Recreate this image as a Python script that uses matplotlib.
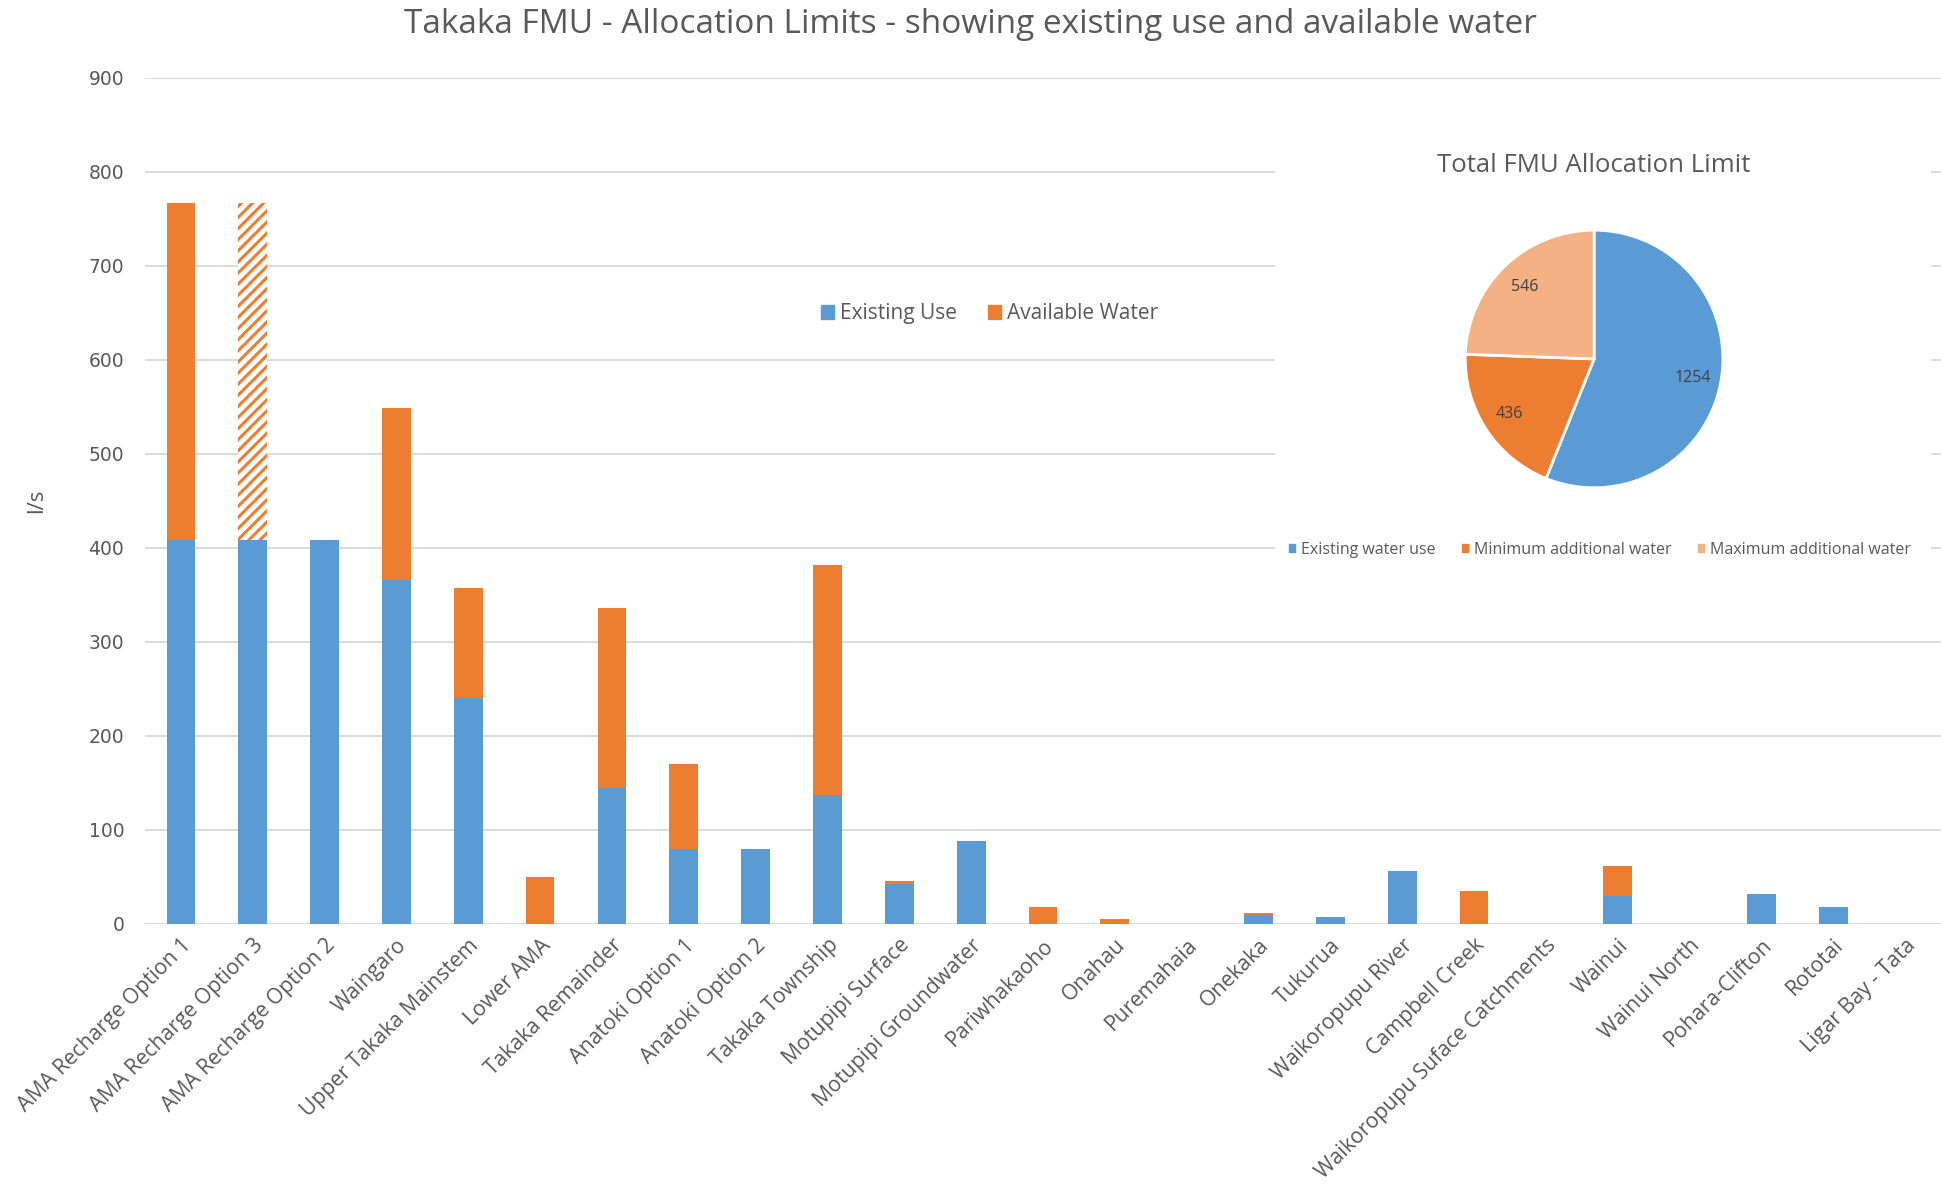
import matplotlib
matplotlib.use("Agg")
import matplotlib.pyplot as plt
from matplotlib.patches import Rectangle, Patch
import numpy as np

categories = ["AMA Recharge Option 1", "AMA Recharge Option 3", "AMA Recharge Option 2",
              "Waingaro", "Upper Takaka Mainstem", "Lower AMA", "Takaka Remainder",
              "Anatoki Option 1", "Anatoki Option 2", "Takaka Township", "Motupipi Surface",
              "Motupipi Groundwater", "Pariwhakaoho", "Onahau", "Puremahaia", "Onekaka",
              "Tukurua", "Waikoropupu River", "Campbell Creek",
              "Waikoropupu Suface Catchments", "Wainui", "Wainui North", "Pohara-Clifton",
              "Rototai", "Ligar Bay - Tata"]
existing_use = [408, 408, 408, 366, 240, 0, 144, 80, 80, 137, 42,
                88, 0, 0, 0, 9, 7, 56, 0, 0, 29, 0, 32, 18, 0]
available_water = [359, 359, 0, 183, 117, 50, 192, 90, 0, 245, 4,
                   0, 18, 5, 0, 2, 0, 0, 35, 0, 32, 0, 0, 0, 0]
hatched_options = ["AMA Recharge Option 3"]

pie_labels = ["Existing water use", "Minimum additional water", "Maximum additional water"]
pie_values = [1254, 436, 546]

BLUE = "#5B9BD5"
ORANGE = "#ED7D31"
LIGHT = "#F4B183"
TXT = "#595959"
GRID = "#D9D9D9"

plt.rcParams["font.family"] = ["Open Sans", "DejaVu Sans"]
plt.rcParams["hatch.linewidth"] = 2.2

fig = plt.figure(figsize=(19.41, 11.89), dpi=100)
ax = fig.add_axes([0.0747, 0.2231, 0.9253, 0.7113])

x = np.arange(len(categories))
w = 0.4
ax.bar(x, existing_use, w, color=BLUE, zorder=3, label="Existing Use")
for i, name in enumerate(categories):
    if available_water[i] == 0:
        continue
    if name in hatched_options:
        ax.bar(x[i], available_water[i], w, bottom=existing_use[i], facecolor="white",
               edgecolor=ORANGE, hatch="///", linewidth=0, zorder=3)
    else:
        ax.bar(x[i], available_water[i], w, bottom=existing_use[i], color=ORANGE, zorder=3)

ax.set_xlim(-0.5, len(categories) - 0.5)
ax.set_ylim(0, 900)
ax.set_yticks(range(0, 901, 100))
ax.yaxis.grid(True, color=GRID, linewidth=1.3, zorder=0)
for s in ax.spines.values():
    s.set_visible(False)
ax.tick_params(axis="y", length=0, pad=15, labelsize=13.5, labelcolor=TXT)
ax.tick_params(axis="x", length=0, pad=8)
for lab in ax.get_yticklabels():
    lab.set_family("DejaVu Sans")
ax.set_xticks(x)
ax.set_xticklabels(categories, rotation=45, ha="right", va="top", rotation_mode="anchor",
                   fontsize=15.3, color=TXT)
ax.set_ylabel("l/s", fontsize=16, color=TXT, labelpad=30)

ax.legend(handles=[Patch(color=BLUE, label="Existing Use"), Patch(color=ORANGE, label="Available Water")],
          loc="center", bbox_to_anchor=(0.51, 0.736), bbox_transform=fig.transFigure,
          ncol=2, frameon=False, fontsize=15, handlelength=0.6, handleheight=0.6,
          handletextpad=0.3, columnspacing=1.5, labelcolor=TXT)

fig.suptitle("Takaka FMU - Allocation Limits - showing existing use and available water",
             y=0.993, fontsize=24, color=TXT)

# white panel holding the pie chart
fig.patches.append(Rectangle((1275 / 1941, 1 - 585 / 1189), 656 / 1941, 470 / 1189,
                             transform=fig.transFigure, facecolor="white",
                             edgecolor="none", zorder=1))

pax = fig.add_axes([0.7383, 0.5627, 0.1659, 0.2708], zorder=2)
total = sum(pie_values)
wedges, texts, autotexts = pax.pie(
    pie_values, colors=[BLUE, ORANGE, LIGHT], startangle=90, counterclock=False,
    autopct=lambda p: f"{p * total / 100:.0f}", pctdistance=0.78,
    wedgeprops=dict(edgecolor="white", linewidth=2),
    textprops=dict(fontsize=11.5, color="#404040"))
pax.set_aspect("equal")
fig.text(1594 / 1941, 1 - 165 / 1189, "Total FMU Allocation Limit", ha="center", va="center",
         fontsize=18.5, color=TXT, zorder=3)
fig.legend(handles=[Patch(color=c, label=l) for c, l in zip([BLUE, ORANGE, LIGHT], pie_labels)],
           loc="center", bbox_to_anchor=(1600 / 1941, 1 - 550 / 1189), ncol=3, frameon=False,
           fontsize=11.5, handlelength=0.4, handleheight=0.4, handletextpad=0.4,
           columnspacing=1.6, labelcolor=TXT)

fig.savefig("out.png", dpi=100, facecolor="white")
